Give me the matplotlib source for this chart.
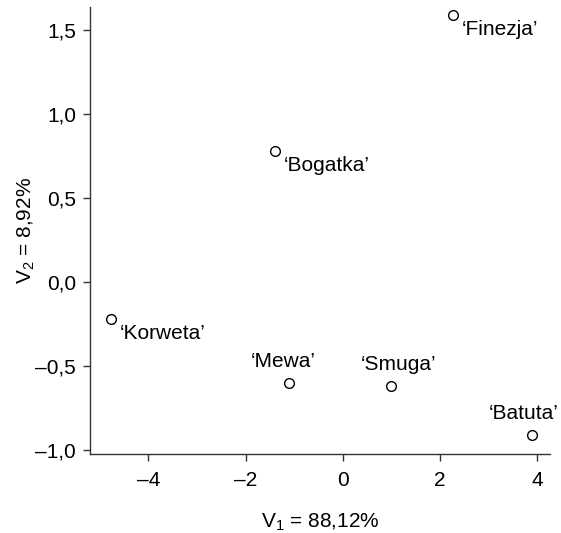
import matplotlib
matplotlib.use("Agg")
import matplotlib.pyplot as plt
from matplotlib.ticker import FuncFormatter

plt.rcParams['font.family'] = ['Liberation Sans', 'DejaVu Sans']
plt.rcParams['mathtext.fontset'] = 'custom'
plt.rcParams['mathtext.rm'] = 'Liberation Sans'
plt.rcParams['mathtext.it'] = 'Liberation Sans'

names = ["‘Finezja’", "‘Bogatka’", "‘Korweta’", "‘Mewa’", "‘Smuga’", "‘Batuta’"]
v1 = [2.26, -1.40, -4.77, -1.11, 0.99, 3.89]
v2 = [1.59, 0.78, -0.22, -0.60, -0.62, -0.91]
label_pos = ["right", "right", "right", "above", "above", "above"]
xticks = [-4, -2, 0, 2, 4]
yticks = [-1.0, -0.5, 0.0, 0.5, 1.0, 1.5]

# label offsets in pixels (styling only)
label_off = {"right": (9, -20), "above": (0, 16)}
label_dx = [0, 0, 0, -6, 8, -8]

FS = 15

fig = plt.figure(figsize=(5.61, 5.33), dpi=100)
ax = fig.add_axes([0.1604, 0.148, 0.8196, 0.839])

ax.plot(v1, v2, linestyle='none', marker='o', markersize=7, markerfacecolor='white',
        markeredgecolor='black', markeredgewidth=1.0)

for n, x, y, p, dx in zip(names, v1, v2, label_pos, label_dx):
    ox, oy = label_off[p]
    ax.annotate(n, (x, y), xytext=(ox + dx, oy), textcoords='offset pixels',
                ha='left' if p == "right" else 'center', va='baseline', fontsize=FS)

ax.set_xlim(-5.2, 4.26)
ax.set_ylim(-1.026, 1.64)
ax.set_xticks(xticks)
ax.set_yticks(yticks)

def fmt_x(v, pos):
    s = f"{v:.0f}"
    return s.replace("-", "–")

def fmt_y(v, pos):
    s = f"{v:.1f}".replace(".", ",")
    if s.startswith("-"):
        s = "–" + s[1:]
    if s == "–0,0":
        s = "0,0"
    return s

ax.xaxis.set_major_formatter(FuncFormatter(fmt_x))
ax.yaxis.set_major_formatter(FuncFormatter(fmt_y))

for s in ['top', 'right']:
    ax.spines[s].set_visible(False)
for s in ['left', 'bottom']:
    ax.spines[s].set_color('#333333')
    ax.spines[s].set_linewidth(1.0)

ax.tick_params(axis='both', direction='out', length=5, width=1, color='#333333',
               labelsize=FS)
ax.tick_params(axis='x', pad=7)
ax.tick_params(axis='y', pad=5)

ax.set_xlabel("V$_1$ = 88,12%", fontsize=FS, labelpad=16)
ax.set_ylabel("V$_2$ = 8,92%", fontsize=FS, labelpad=-1)

fig.savefig("out.png", dpi=100)
